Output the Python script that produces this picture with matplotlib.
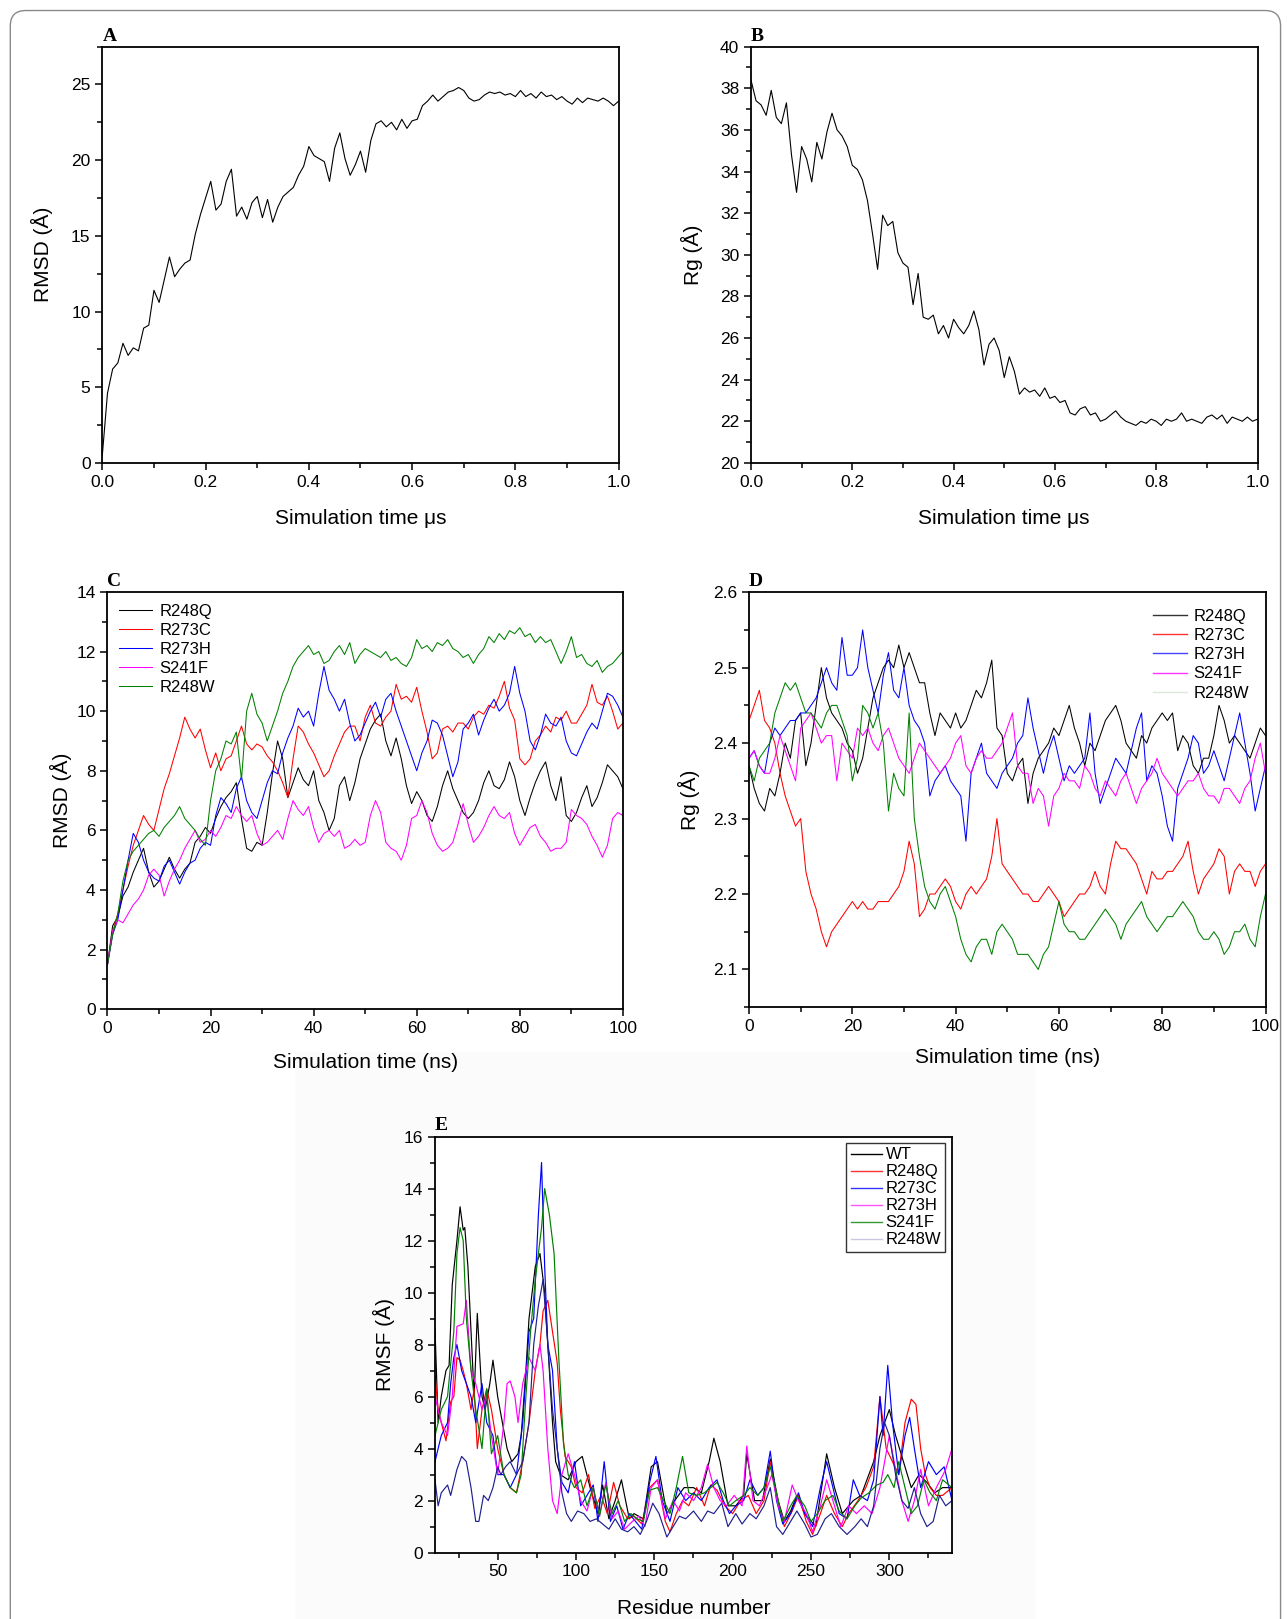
import numpy as np
import matplotlib
matplotlib.use('Agg')
import matplotlib.pyplot as plt
from matplotlib.lines import Line2D
from matplotlib.patches import FancyBboxPatch, Rectangle
from matplotlib.ticker import MultipleLocator

plt.rcParams['font.family'] = ['Liberation Sans', 'DejaVu Sans']

#---------------------------------------------------------------------
# Panel A / B : long simulation (0 - 1 us), sampled every 0.01 us
#---------------------------------------------------------------------
time_us = np.round(np.arange(0, 1.001, 0.01), 2)

rmsd_long = [0.5, 4.6, 6.2, 6.6, 7.9, 7.1, 7.6, 7.4, 8.9, 9.1,
             11.4, 10.6, 12.1, 13.6, 12.3, 12.8, 13.2, 13.4, 15.1, 16.4,
             17.5, 18.6, 16.7, 17.1, 18.6, 19.4, 16.3, 16.9, 16.1, 17.2,
             17.6, 16.2, 17.4, 15.9, 16.9, 17.6, 17.9, 18.2, 19.0, 19.6,
             20.9, 20.3, 20.1, 19.9, 18.6, 20.8, 21.8, 20.1, 19.0, 19.7,
             20.6, 19.2, 21.3, 22.4, 22.6, 22.2, 22.5, 22.0, 22.7, 22.1,
             22.6, 22.7, 23.6, 23.9, 24.3, 23.9, 24.2, 24.5, 24.6, 24.8,
             24.6, 24.1, 23.9, 24.0, 24.3, 24.5, 24.4, 24.5, 24.3, 24.4,
             24.2, 24.6, 24.2, 24.4, 24.1, 24.5, 24.2, 24.3, 24.0, 24.2,
             23.9, 23.7, 24.1, 23.8, 24.1, 24.0, 23.9, 24.1, 23.9, 23.6,
             23.9]

rg_long = [38.4, 37.4, 37.2, 36.7, 37.9, 36.6, 36.3, 37.3, 34.8, 33.0,
           35.2, 34.6, 33.5, 35.4, 34.6, 35.9, 36.8, 36.0, 35.7, 35.2,
           34.3, 34.1, 33.6, 32.6, 31.0, 29.3, 31.9, 31.4, 31.6, 30.1,
           29.6, 29.4, 27.6, 29.1, 27.0, 26.9, 27.1, 26.2, 26.6, 26.0,
           26.9, 26.5, 26.2, 26.6, 27.3, 26.4, 24.7, 25.7, 26.0, 25.4,
           24.1, 25.1, 24.4, 23.3, 23.6, 23.4, 23.5, 23.2, 23.6, 23.1,
           23.2, 22.9, 23.0, 22.4, 22.3, 22.6, 22.7, 22.3, 22.4, 22.0,
           22.1, 22.3, 22.5, 22.2, 22.0, 21.9, 21.8, 22.0, 21.9, 22.1,
           22.0, 21.8, 22.1, 22.0, 22.1, 22.4, 22.0, 22.1, 22.0, 21.9,
           22.2, 22.3, 22.1, 22.3, 21.9, 22.2, 22.1, 22.0, 22.2, 22.0,
           22.1]

#---------------------------------------------------------------------
# Panel C / D : 100 ns runs of the mutants, sampled every 1 ns
#---------------------------------------------------------------------
time_ns = np.arange(0, 101, 1)
mutants = ['R248Q', 'R273C', 'R273H', 'S241F', 'R248W']
mut_colors = ['black', 'red', 'blue', 'magenta', 'green']

rmsd_R248Q = [1.5, 2.8, 3.1, 3.8, 4.1, 4.6, 5.0, 5.4, 4.6, 4.1,
              4.3, 4.7, 5.1, 4.7, 4.4, 4.7, 4.9, 5.6, 5.8, 6.1,
              5.9, 6.4, 6.8, 7.1, 7.3, 7.6, 6.4, 5.4, 5.3, 5.6,
              5.5, 6.6, 7.9, 9.0, 8.4, 7.1, 7.6, 8.1, 7.7, 7.5,
              8.0, 7.0, 6.6, 6.0, 6.4, 7.5, 7.8, 7.0, 7.6, 8.4,
              8.9, 9.4, 9.7, 9.9, 9.0, 8.5, 9.1, 8.4, 7.5, 6.9,
              7.3, 7.0, 6.5, 6.3, 6.8, 7.5, 8.0, 7.4, 7.0, 6.6,
              6.4, 6.6, 7.0, 7.6, 8.0, 7.5, 7.4, 7.7, 8.3, 7.8,
              7.0, 6.5, 7.1, 7.6, 8.0, 8.3, 7.5, 7.0, 7.8, 6.5,
              6.3, 6.6, 7.1, 7.5, 6.8, 7.1, 7.6, 8.2, 8.0, 7.8,
              7.4]
rmsd_R273C = [1.5, 2.6, 3.2, 4.0, 4.8, 5.5, 6.0, 6.5, 6.2, 6.0,
              6.7, 7.4, 7.9, 8.5, 9.1, 9.8, 9.4, 9.1, 9.4, 8.7,
              8.1, 8.6, 8.0, 8.4, 8.5, 9.0, 9.5, 8.9, 8.7, 8.9,
              8.8, 8.5, 8.3, 8.0, 7.6, 7.1, 8.4, 9.5, 9.3, 8.9,
              8.6, 8.2, 7.8, 8.0, 8.5, 8.9, 9.3, 9.5, 9.5, 9.0,
              9.8, 10.2, 9.6, 9.5, 9.8, 10.0, 10.9, 10.4, 10.5, 10.3,
              10.8, 10.0, 9.3, 8.4, 8.6, 9.4, 9.5, 9.3, 9.6, 9.6,
              9.4, 9.8, 10.0, 9.9, 10.2, 10.1, 10.5, 11.0, 10.1, 9.7,
              8.4, 8.2, 8.4, 9.0, 9.2, 9.5, 9.3, 9.8, 9.7, 10.0,
              9.6, 9.6, 9.9, 10.2, 10.9, 10.3, 10.2, 10.5, 10.0, 9.4,
              9.6]
rmsd_R273H = [1.5, 2.5, 3.0, 4.0, 5.0, 5.9, 5.6, 5.0, 4.6, 4.4,
              4.3, 4.8, 5.0, 4.6, 4.2, 4.6, 4.9, 5.0, 5.4, 5.6,
              5.5, 6.5, 7.1, 6.9, 6.6, 7.4, 7.8, 7.0, 6.6, 6.4,
              7.0, 7.6, 8.0, 7.9, 8.6, 9.1, 9.5, 10.1, 9.8, 10.0,
              9.5, 10.6, 11.5, 10.7, 10.4, 10.0, 10.4, 9.6, 9.0, 9.2,
              9.6, 10.0, 10.3, 9.8, 10.4, 10.6, 10.0, 9.5, 9.0, 8.5,
              8.0, 8.6, 9.0, 9.7, 9.6, 9.2, 8.5, 7.8, 8.3, 9.4,
              9.6, 9.9, 9.2, 9.7, 10.1, 10.4, 10.0, 10.2, 10.6, 11.5,
              10.6, 10.0, 9.0, 8.7, 9.2, 9.9, 9.6, 9.5, 9.8, 9.0,
              8.6, 8.5, 8.9, 9.3, 9.6, 9.4, 10.0, 10.6, 10.5, 10.2,
              9.8]
rmsd_S241F = [1.5, 2.6, 3.0, 2.9, 3.2, 3.5, 3.7, 4.0, 4.5, 4.7,
              4.5, 3.8, 4.3, 4.7, 5.0, 5.4, 5.7, 6.0, 5.6, 5.7,
              6.0, 5.8, 6.1, 6.5, 6.4, 6.8, 6.5, 6.3, 6.5, 5.9,
              5.5, 5.6, 5.8, 6.0, 5.7, 6.4, 7.0, 6.7, 6.5, 6.8,
              6.1, 5.6, 5.9, 6.0, 5.8, 6.0, 5.4, 5.5, 5.7, 5.5,
              5.6, 6.5, 7.0, 6.6, 5.6, 5.4, 5.3, 5.0, 5.5, 6.4,
              6.5, 7.0, 6.6, 5.9, 5.5, 5.3, 5.4, 5.6, 6.2, 6.9,
              6.2, 5.6, 5.8, 6.1, 6.5, 6.8, 6.5, 6.4, 6.6, 5.9,
              5.5, 5.8, 6.1, 6.2, 5.8, 5.6, 5.3, 5.4, 5.4, 5.6,
              6.7, 6.5, 6.4, 6.2, 5.8, 5.5, 5.1, 5.5, 6.4, 6.6,
              6.5]
rmsd_R248W = [1.5, 2.5, 3.2, 4.3, 5.0, 5.3, 5.5, 5.7, 5.9, 6.0,
              5.8, 6.1, 6.3, 6.5, 6.8, 6.4, 6.2, 6.0, 5.7, 5.5,
              7.0, 8.0, 8.4, 9.0, 8.9, 9.3, 7.7, 10.0, 10.6, 9.9,
              9.6, 9.0, 9.5, 10.0, 10.6, 11.0, 11.5, 11.8, 12.0, 12.2,
              11.9, 12.0, 11.6, 11.7, 12.0, 12.2, 11.9, 12.3, 11.6, 11.9,
              12.1, 12.0, 11.9, 11.8, 12.0, 11.7, 11.8, 11.6, 11.5, 11.8,
              12.4, 12.1, 12.2, 12.0, 12.3, 12.2, 12.4, 12.1, 12.0, 11.8,
              11.9, 11.6, 11.9, 12.1, 12.5, 12.3, 12.6, 12.4, 12.7, 12.6,
              12.8, 12.5, 12.6, 12.3, 12.5, 12.3, 12.4, 12.0, 11.6, 12.0,
              12.5, 11.8, 11.9, 11.6, 11.5, 11.7, 11.3, 11.5, 11.6, 11.8,
              12.0]

rg_R248Q = [2.37, 2.34, 2.32, 2.31, 2.34, 2.33, 2.36, 2.40, 2.38, 2.43,
            2.44, 2.37, 2.40, 2.45, 2.50, 2.46, 2.44, 2.43, 2.42, 2.40,
            2.39, 2.36, 2.38, 2.42, 2.46, 2.48, 2.50, 2.51, 2.50, 2.53,
            2.50, 2.52, 2.50, 2.48, 2.48, 2.44, 2.41, 2.44, 2.43, 2.42,
            2.44, 2.42, 2.43, 2.45, 2.47, 2.46, 2.48, 2.51, 2.42, 2.41,
            2.36, 2.35, 2.37, 2.38, 2.32, 2.36, 2.38, 2.39, 2.40, 2.42,
            2.41, 2.43, 2.45, 2.42, 2.40, 2.37, 2.40, 2.39, 2.41, 2.43,
            2.44, 2.45, 2.43, 2.40, 2.39, 2.38, 2.41, 2.40, 2.42, 2.43,
            2.44, 2.43, 2.44, 2.39, 2.41, 2.40, 2.37, 2.36, 2.38, 2.38,
            2.41, 2.45, 2.43, 2.40, 2.41, 2.40, 2.39, 2.38, 2.40, 2.42,
            2.41]
rg_R273C = [2.43, 2.45, 2.47, 2.43, 2.42, 2.40, 2.36, 2.33, 2.31, 2.29,
            2.30, 2.23, 2.20, 2.18, 2.15, 2.13, 2.15, 2.16, 2.17, 2.18,
            2.19, 2.18, 2.19, 2.18, 2.18, 2.19, 2.19, 2.19, 2.20, 2.21,
            2.23, 2.27, 2.24, 2.17, 2.18, 2.20, 2.20, 2.21, 2.22, 2.21,
            2.19, 2.18, 2.20, 2.21, 2.20, 2.21, 2.22, 2.25, 2.30, 2.24,
            2.23, 2.22, 2.21, 2.20, 2.20, 2.19, 2.19, 2.20, 2.21, 2.20,
            2.19, 2.17, 2.18, 2.19, 2.20, 2.20, 2.21, 2.23, 2.21, 2.20,
            2.24, 2.27, 2.26, 2.26, 2.25, 2.24, 2.22, 2.20, 2.23, 2.22,
            2.22, 2.23, 2.23, 2.24, 2.25, 2.27, 2.23, 2.20, 2.22, 2.23,
            2.24, 2.26, 2.25, 2.20, 2.23, 2.24, 2.23, 2.23, 2.21, 2.23,
            2.24]
rg_R273H = [2.38, 2.39, 2.37, 2.36, 2.40, 2.42, 2.41, 2.42, 2.43, 2.43,
            2.44, 2.44, 2.45, 2.46, 2.48, 2.50, 2.48, 2.47, 2.54, 2.49,
            2.49, 2.50, 2.55, 2.50, 2.47, 2.44, 2.49, 2.52, 2.47, 2.46,
            2.50, 2.45, 2.43, 2.42, 2.40, 2.33, 2.35, 2.36, 2.37, 2.35,
            2.34, 2.33, 2.27, 2.36, 2.38, 2.40, 2.36, 2.35, 2.34, 2.36,
            2.37, 2.38, 2.40, 2.41, 2.46, 2.42, 2.39, 2.36, 2.39, 2.41,
            2.38, 2.35, 2.37, 2.36, 2.37, 2.38, 2.44, 2.36, 2.32, 2.34,
            2.36, 2.38, 2.37, 2.36, 2.39, 2.42, 2.44, 2.35, 2.37, 2.36,
            2.33, 2.29, 2.27, 2.34, 2.36, 2.38, 2.41, 2.40, 2.36, 2.37,
            2.39, 2.37, 2.35, 2.38, 2.41, 2.44, 2.40, 2.36, 2.31, 2.34,
            2.37]
rg_S241F = [2.38, 2.39, 2.37, 2.36, 2.36, 2.38, 2.41, 2.39, 2.37, 2.35,
            2.42, 2.43, 2.44, 2.42, 2.40, 2.41, 2.41, 2.35, 2.40, 2.39,
            2.38, 2.42, 2.41, 2.42, 2.40, 2.39, 2.41, 2.42, 2.40, 2.38,
            2.37, 2.36, 2.38, 2.40, 2.39, 2.38, 2.37, 2.36, 2.37, 2.38,
            2.40, 2.41, 2.37, 2.36, 2.38, 2.39, 2.38, 2.38, 2.39, 2.40,
            2.42, 2.44, 2.37, 2.36, 2.36, 2.32, 2.34, 2.33, 2.29, 2.33,
            2.34, 2.36, 2.35, 2.35, 2.34, 2.37, 2.36, 2.34, 2.33, 2.35,
            2.34, 2.33, 2.35, 2.36, 2.34, 2.32, 2.34, 2.35, 2.36, 2.38,
            2.36, 2.35, 2.34, 2.33, 2.34, 2.35, 2.35, 2.36, 2.34, 2.33,
            2.33, 2.32, 2.34, 2.34, 2.33, 2.32, 2.34, 2.35, 2.38, 2.40,
            2.36]
rg_R248W = [2.37, 2.35, 2.38, 2.39, 2.40, 2.44, 2.46, 2.48, 2.47, 2.48,
            2.46, 2.44, 2.44, 2.43, 2.42, 2.44, 2.45, 2.45, 2.43, 2.41,
            2.35, 2.38, 2.45, 2.44, 2.42, 2.44, 2.40, 2.31, 2.36, 2.34,
            2.33, 2.44, 2.30, 2.25, 2.21, 2.19, 2.18, 2.20, 2.21, 2.19,
            2.17, 2.14, 2.12, 2.11, 2.13, 2.14, 2.14, 2.12, 2.15, 2.16,
            2.15, 2.14, 2.12, 2.12, 2.12, 2.11, 2.10, 2.12, 2.13, 2.16,
            2.19, 2.16, 2.15, 2.15, 2.14, 2.14, 2.15, 2.16, 2.17, 2.18,
            2.17, 2.16, 2.14, 2.16, 2.17, 2.18, 2.19, 2.17, 2.16, 2.15,
            2.16, 2.17, 2.17, 2.18, 2.19, 2.18, 2.17, 2.15, 2.14, 2.14,
            2.15, 2.14, 2.12, 2.13, 2.15, 2.15, 2.16, 2.14, 2.13, 2.17,
            2.20]

rmsd_mut = [rmsd_R248Q, rmsd_R273C, rmsd_R273H, rmsd_S241F, rmsd_R248W]
rg_mut = [rg_R248Q, rg_R273C, rg_R273H, rg_S241F, rg_R248W]

#---------------------------------------------------------------------
# Panel E : RMSF per residue, (residue, RMSF)
#---------------------------------------------------------------------
rmsf_WT = np.array([
    (10, 8.6), (12, 5.0), (14, 6.0), (17, 7.0), (19, 7.2), (21, 10.3), (24, 12.0),
    (26, 13.3), (28, 12.4), (29, 12.5), (31, 11.0), (33, 8.5), (35, 6.0), (37, 9.2),
    (40, 6.0), (42, 5.5), (45, 6.5), (47, 7.4), (50, 6.0), (53, 5.0), (56, 4.0),
    (59, 3.5), (63, 3.8), (65, 4.5), (68, 7.0), (70, 9.0), (74, 11.0), (77, 11.5),
    (80, 10.0), (82, 8.0), (85, 5.0), (87, 3.5), (90, 3.0), (95, 2.8), (100, 3.5),
    (104, 3.7), (109, 2.5), (114, 1.5), (117, 2.6), (121, 1.3), (125, 2.0), (129, 2.8),
    (134, 1.3), (137, 1.5), (143, 1.3), (148, 3.3), (152, 3.5), (158, 1.5), (163, 2.0),
    (169, 2.5), (175, 2.5), (180, 2.3), (185, 3.5), (188, 4.4), (192, 3.5), (197, 1.8),
    (202, 1.8), (207, 2.2), (209, 3.8), (214, 2.0), (219, 2.0), (224, 3.6), (229, 2.0),
    (233, 1.2), (237, 1.6), (241, 2.2), (246, 1.5), (253, 1.0), (260, 3.8), (265, 2.5),
    (270, 1.5), (277, 2.0), (282, 2.2), (290, 3.5), (294, 4.5), (297, 5.0), (300, 5.5),
    (304, 4.5), (309, 3.5), (314, 2.5), (319, 3.0), (324, 2.7), (329, 2.3), (334, 2.5),
    (340, 2.5)])
rmsf_R248Q = np.array([
    (10, 6.8), (12, 5.5), (14, 5.0), (17, 4.3), (20, 5.8), (22, 6.0), (24, 7.5),
    (26, 7.4), (28, 7.0), (30, 6.5), (33, 5.5), (35, 6.3), (37, 4.0), (40, 5.5),
    (43, 6.3), (46, 5.5), (50, 4.0), (54, 3.0), (58, 2.5), (62, 2.3), (66, 3.5),
    (70, 5.0), (74, 7.0), (77, 8.0), (79, 9.3), (82, 9.7), (85, 8.5), (88, 7.3),
    (90, 5.5), (93, 3.7), (97, 3.3), (100, 2.5), (104, 2.3), (108, 3.0), (112, 1.7),
    (116, 2.2), (120, 1.5), (124, 2.7), (128, 1.8), (133, 1.3), (137, 1.4), (142, 1.1),
    (147, 2.5), (152, 2.8), (157, 1.2), (160, 0.8), (164, 1.5), (168, 2.0), (172, 1.8),
    (177, 2.5), (182, 1.8), (186, 2.6), (190, 2.4), (195, 1.8), (200, 1.5), (205, 2.0),
    (210, 2.2), (215, 1.5), (220, 2.0), (224, 3.5), (228, 2.2), (233, 1.0), (238, 1.6),
    (242, 2.2), (247, 1.2), (251, 0.7), (256, 1.5), (260, 2.2), (265, 1.5), (270, 1.0),
    (274, 1.5), (280, 2.0), (285, 2.5), (290, 3.3), (294, 6.0), (298, 4.0), (302, 3.5),
    (306, 3.0), (310, 5.0), (314, 5.9), (317, 5.7), (320, 4.0), (323, 3.0), (326, 2.5),
    (330, 2.2), (334, 2.2), (340, 2.5)])
rmsf_R273C = np.array([
    (10, 3.5), (14, 4.5), (18, 5.0), (20, 6.5), (22, 7.5), (24, 8.0), (27, 7.0),
    (30, 6.5), (33, 6.0), (36, 5.0), (40, 6.5), (43, 5.0), (47, 4.5), (50, 3.0),
    (54, 3.0), (58, 2.5), (62, 3.0), (66, 5.0), (70, 8.5), (73, 9.0), (76, 13.0),
    (78, 15.0), (80, 11.0), (82, 8.0), (85, 7.0), (88, 4.0), (91, 2.7), (95, 2.3),
    (99, 3.5), (103, 1.8), (107, 2.2), (111, 2.6), (114, 1.2), (118, 3.5), (122, 1.2),
    (126, 1.8), (130, 0.9), (134, 1.5), (138, 1.2), (142, 0.9), (147, 2.7), (151, 3.7),
    (155, 2.0), (160, 1.2), (165, 2.5), (170, 2.0), (175, 2.3), (180, 2.0), (185, 2.5),
    (190, 2.8), (194, 2.0), (198, 1.5), (202, 1.8), (207, 2.0), (211, 2.8), (216, 2.2),
    (220, 2.5), (224, 3.9), (228, 2.0), (232, 1.1), (237, 1.5), (242, 2.3), (246, 1.5),
    (251, 1.0), (256, 2.5), (260, 3.5), (264, 2.5), (268, 1.5), (273, 1.3), (277, 2.8),
    (281, 2.2), (286, 2.0), (290, 2.8), (294, 6.0), (296, 4.5), (299, 7.2), (302, 5.0),
    (306, 3.0), (310, 4.5), (313, 5.2), (316, 4.0), (320, 2.5), (325, 3.5), (330, 3.0),
    (335, 3.3), (340, 2.0)])
rmsf_R273H = np.array([
    (10, 6.0), (14, 5.0), (18, 4.5), (21, 6.0), (24, 8.7), (28, 8.8), (30, 9.7),
    (33, 7.0), (36, 6.5), (40, 5.5), (43, 6.0), (46, 4.5), (50, 3.0), (54, 5.0),
    (56, 6.5), (58, 6.6), (61, 6.0), (63, 5.0), (66, 6.5), (70, 7.5), (74, 7.0),
    (77, 8.0), (79, 7.0), (82, 4.0), (85, 2.0), (88, 1.5), (91, 3.0), (95, 3.8),
    (99, 3.0), (103, 2.0), (107, 1.6), (111, 2.5), (115, 1.4), (119, 2.7), (123, 1.3),
    (127, 1.6), (131, 0.9), (136, 1.2), (140, 1.4), (144, 1.0), (148, 2.5), (152, 2.8),
    (157, 1.3), (162, 2.0), (166, 1.6), (170, 2.3), (175, 2.0), (180, 2.5), (184, 3.4),
    (188, 2.5), (192, 2.0), (196, 1.8), (201, 2.2), (206, 1.8), (209, 4.1), (213, 2.0),
    (217, 1.8), (222, 2.5), (225, 3.0), (229, 1.8), (233, 1.2), (238, 2.6), (242, 2.0),
    (247, 1.5), (251, 0.8), (256, 1.8), (260, 2.8), (264, 2.0), (269, 1.0), (274, 1.8),
    (279, 1.5), (284, 1.8), (289, 1.5), (294, 2.5), (297, 3.5), (300, 4.5), (304, 3.2),
    (308, 2.0), (312, 1.2), (316, 2.0), (320, 3.2), (325, 1.8), (330, 2.5), (336, 3.2),
    (340, 4.0)])
rmsf_S241F = np.array([
    (10, 4.5), (14, 5.5), (18, 6.0), (22, 8.5), (24, 11.5), (26, 12.5), (28, 12.0),
    (30, 9.0), (33, 7.0), (36, 5.5), (40, 4.0), (43, 6.3), (46, 3.8), (50, 4.5),
    (54, 3.0), (58, 2.5), (62, 2.3), (65, 3.0), (68, 6.0), (71, 8.5), (74, 10.5),
    (76, 11.5), (78, 12.5), (80, 14.0), (83, 13.0), (86, 11.5), (89, 7.5), (92, 4.2),
    (95, 3.0), (99, 2.5), (103, 2.8), (107, 1.8), (111, 2.5), (115, 1.4), (119, 2.6),
    (123, 1.5), (127, 2.0), (131, 1.2), (135, 1.5), (139, 1.3), (143, 1.2), (147, 2.4),
    (152, 2.5), (156, 2.0), (160, 1.5), (164, 2.5), (168, 3.7), (172, 2.3), (177, 2.2),
    (182, 2.3), (186, 2.5), (190, 2.7), (194, 2.3), (198, 1.8), (202, 2.0), (207, 2.2),
    (211, 2.5), (216, 2.2), (220, 2.5), (224, 3.3), (228, 2.3), (232, 1.2), (237, 1.8),
    (241, 2.2), (246, 1.8), (250, 1.2), (254, 1.5), (259, 2.0), (264, 2.2), (268, 1.6),
    (273, 1.3), (278, 1.8), (282, 2.1), (287, 2.3), (292, 2.6), (296, 2.7), (299, 3.0),
    (303, 2.5), (306, 3.5), (310, 2.5), (314, 1.5), (318, 1.8), (322, 2.8), (326, 2.3),
    (330, 2.0), (334, 2.8), (340, 2.5)])
rmsf_R248W = np.array([
    (10, 2.8), (12, 1.8), (14, 2.3), (18, 2.6), (20, 2.2), (24, 3.2), (27, 3.7),
    (30, 3.5), (33, 2.5), (36, 1.2), (38, 1.2), (41, 2.2), (44, 2.0), (47, 2.5),
    (50, 3.3), (52, 3.0), (55, 3.3), (58, 3.5), (62, 3.0), (66, 3.5), (70, 5.0),
    (73, 8.0), (76, 9.5), (79, 10.5), (82, 8.0), (85, 5.5), (88, 4.0), (91, 2.3),
    (94, 1.5), (97, 1.2), (101, 1.6), (105, 1.5), (109, 1.2), (113, 1.3), (117, 1.1),
    (121, 0.9), (125, 1.3), (129, 0.9), (133, 0.8), (137, 1.0), (141, 0.7), (145, 1.2),
    (149, 1.9), (153, 1.5), (158, 0.6), (162, 1.0), (166, 1.4), (170, 1.3), (175, 1.6),
    (180, 1.2), (184, 1.6), (188, 1.5), (193, 1.9), (197, 1.0), (202, 1.5), (206, 1.1),
    (211, 1.5), (215, 1.3), (220, 1.8), (224, 2.5), (228, 1.0), (232, 0.7), (237, 1.2),
    (241, 1.6), (246, 1.1), (250, 0.6), (254, 0.7), (259, 1.3), (263, 1.5), (268, 1.0),
    (273, 0.7), (278, 1.0), (282, 1.3), (286, 1.0), (290, 1.8), (294, 4.0), (297, 5.0),
    (300, 4.5), (304, 3.0), (308, 2.0), (312, 1.7), (316, 2.5), (320, 1.5), (324, 1.0),
    (328, 1.2), (332, 2.2), (336, 1.8), (340, 2.0)])

rmsf_names = ['WT', 'R248Q', 'R273C', 'R273H', 'S241F', 'R248W']
rmsf_all = [rmsf_WT, rmsf_R248Q, rmsf_R273C, rmsf_R273H, rmsf_S241F, rmsf_R248W]
rmsf_colors = ['black', 'red', 'blue', 'magenta', 'green', '#1f1f8f']

#---------------------------------------------------------------------
# helpers
#---------------------------------------------------------------------
TICK_FS = 12.5
LABEL_FS = 15


def style_axes(ax, xmaj, xmin, ymaj, ymin):
    ax.xaxis.set_major_locator(MultipleLocator(xmaj))
    ax.xaxis.set_minor_locator(MultipleLocator(xmin))
    ax.yaxis.set_major_locator(MultipleLocator(ymaj))
    ax.yaxis.set_minor_locator(MultipleLocator(ymin))
    ax.tick_params(which='both', direction='out', top=False, right=False,
                   width=1.1, labelsize=TICK_FS)
    ax.tick_params(which='major', length=5)
    ax.tick_params(which='minor', length=3.5)
    for s in ax.spines.values():
        s.set_linewidth(1.3)


def panel_letter(ax, letter):
    ax.text(0.0, 1.005, letter, transform=ax.transAxes, ha='left', va='bottom',
            fontsize=14, fontweight='bold', family=['Liberation Serif', 'DejaVu Serif'])


fig = plt.figure(figsize=(12.87, 16.19), dpi=100)

# rounded outer frame of the figure
frame = FancyBboxPatch((0.008, -0.02), 0.987, 1.0135, transform=fig.transFigure,
                       boxstyle='round,pad=0,rounding_size=0.012', fill=False,
                       edgecolor='#8a8a8a', linewidth=1.0, mutation_aspect=1287/1619)
fig.patches.append(frame)
# very light background behind panel E
fig.patches.append(Rectangle((0.229, 0.0), 0.575, 0.35, transform=fig.transFigure,
                             facecolor='#fbfbfb', edgecolor='none', zorder=-1))

#---------------------------- A ----------------------------
axA = fig.add_axes([0.0795, 0.7141, 0.4012, 0.2571])
axA.plot(time_us, rmsd_long, color='black', lw=0.8)
axA.set_xlim(0, 1)
axA.set_ylim(0, 27.5)
style_axes(axA, 0.2, 0.1, 5, 2.5)
axA.xaxis.set_major_formatter(matplotlib.ticker.FormatStrFormatter('%.1f'))
axA.set_xlabel('Simulation time μs', fontsize=LABEL_FS, labelpad=14)
axA.set_ylabel('RMSD (Å)', fontsize=LABEL_FS, labelpad=13)
panel_letter(axA, 'A')

#---------------------------- B ----------------------------
axB = fig.add_axes([0.5835, 0.7141, 0.3936, 0.2571])
axB.plot(time_us, rg_long, color='black', lw=0.8)
axB.set_xlim(0, 1)
axB.set_ylim(20, 40)
style_axes(axB, 0.2, 0.1, 2, 1)
axB.xaxis.set_major_formatter(matplotlib.ticker.FormatStrFormatter('%.1f'))
axB.set_xlabel('Simulation time μs', fontsize=LABEL_FS, labelpad=14)
axB.set_ylabel('Rg (Å)', fontsize=LABEL_FS, labelpad=12)
panel_letter(axB, 'B')

#---------------------------- C ----------------------------
axC = fig.add_axes([0.0835, 0.3766, 0.4005, 0.2578])
for name, vals, col in zip(mutants, rmsd_mut, mut_colors):
    axC.plot(time_ns, vals, color=col, lw=0.75, label=name)
axC.set_xlim(0, 100)
axC.set_ylim(0, 14)
style_axes(axC, 20, 10, 2, 1)
axC.set_xlabel('Simulation time (ns)', fontsize=LABEL_FS, labelpad=12)
axC.set_ylabel('RMSD (Å)', fontsize=LABEL_FS, labelpad=3)
axC.legend(loc='upper left', frameon=False, fontsize=12, handlelength=2.0,
           labelspacing=0.25, borderaxespad=0.3, handletextpad=0.4)
panel_letter(axC, 'C')

#---------------------------- D ----------------------------
axD = fig.add_axes([0.582, 0.3779, 0.4013, 0.2563])
for name, vals, col in zip(mutants, rg_mut, mut_colors):
    axD.plot(time_ns, vals, color=col, lw=0.75)
axD.set_xlim(0, 100)
axD.set_ylim(2.05, 2.6)
style_axes(axD, 20, 10, 0.1, 0.05)
axD.yaxis.set_major_formatter(matplotlib.ticker.FormatStrFormatter('%.1f'))
axD.set_xlabel('Simulation time (ns)', fontsize=LABEL_FS, labelpad=10)
axD.set_ylabel('Rg (Å)', fontsize=LABEL_FS, labelpad=9)
# legend samples as printed (last one very faint)
d_handles = [Line2D([], [], color=c, lw=1.0) for c in ['#333333', '#ff3333', '#4444ff', '#ff33ff', '#dde8dd']]
axD.legend(d_handles, mutants, loc='upper right', frameon=False, fontsize=12,
           handlelength=2.0, labelspacing=0.25, borderaxespad=0.6, handletextpad=0.4)
panel_letter(axD, 'D')

#---------------------------- E ----------------------------
axE = fig.add_axes([0.338, 0.041, 0.4017, 0.257])
for name, arr, col in zip(rmsf_names, rmsf_all, rmsf_colors):
    axE.plot(arr[:, 0], arr[:, 1], color=col, lw=0.85)
axE.set_xlim(10, 340)
axE.set_ylim(0, 16)
style_axes(axE, 50, 25, 2, 1)
axE.set_xlabel('Residue number', fontsize=LABEL_FS, labelpad=14)
axE.set_ylabel('RMSF (Å)', fontsize=LABEL_FS, labelpad=6)
e_handles = [Line2D([], [], color=c, lw=1.0) for c in ['black', '#ff3333', '#3333ff', '#ff55ff', '#339933', '#c8c8e0']]
legE = axE.legend(e_handles, rmsf_names, loc='upper right', frameon=True, fontsize=12,
                  handlelength=1.9, labelspacing=0.12, borderaxespad=0.4,
                  handletextpad=0.2, borderpad=0.25, fancybox=False)
legE.get_frame().set_edgecolor('black')
legE.get_frame().set_linewidth(1.0)
panel_letter(axE, 'E')

fig.savefig('out.png', dpi=100, facecolor='white')
